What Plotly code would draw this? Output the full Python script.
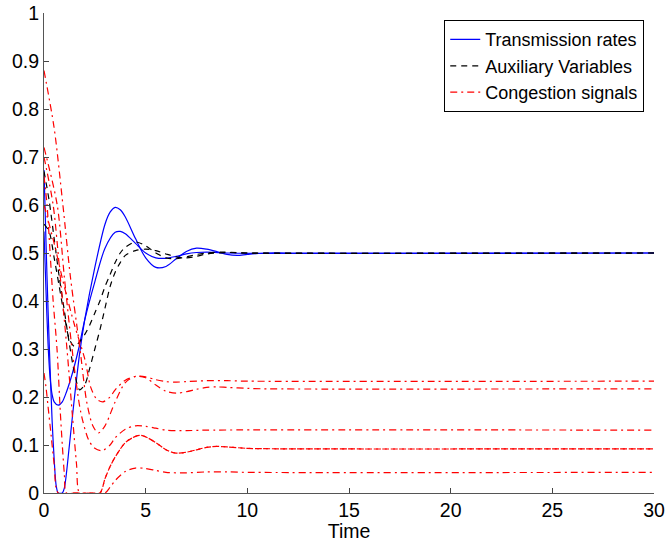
import plotly.graph_objects as go

# ---- transmission rates (blue, solid) ----
rate1_t = [0, 0.1, 0.2, 0.3, 0.4, 0.5, 0.6, 0.7, 0.9, 1.0, 1.25, 1.5, 1.75, 2.0, 2.5, 3.0, 3.25, 3.5,
           3.75, 4.0, 4.5, 5.0, 5.5, 6.0, 6.5, 7.0, 7.5, 8.0, 8.5, 9.0, 9.5, 10, 11, 12, 30]
rate1_y = [0.673, 0.52, 0.38, 0.26, 0.15, 0.07, 0.015, 0.0, 0.0, 0.01, 0.1, 0.2, 0.29, 0.36, 0.47, 0.56,
           0.585, 0.595, 0.59, 0.575, 0.53, 0.49, 0.47, 0.472, 0.488, 0.503, 0.51, 0.508, 0.503, 0.497,
           0.495, 0.497, 0.5, 0.5, 0.5]
rate2_t = [0, 0.1, 0.2, 0.3, 0.4, 0.5, 0.7, 0.9, 1.1, 1.4, 1.7, 2.0, 2.5, 3.0, 3.5, 3.75, 4.0, 4.5,
           5.0, 5.5, 6.0, 6.5, 7.0, 7.5, 8.0, 9.0, 30]
rate2_y = [0.545, 0.42, 0.31, 0.24, 0.205, 0.19, 0.183, 0.19, 0.21, 0.25, 0.3, 0.36, 0.44, 0.51,
           0.543, 0.545, 0.54, 0.52, 0.5, 0.49, 0.489, 0.493, 0.498, 0.501, 0.502, 0.5, 0.5]

# ---- auxiliary variables (black, dashed) ----
aux1_t = [0, 0.25, 0.5, 0.75, 1.0, 1.25, 1.5, 1.75, 2.0, 2.25, 2.5, 2.75, 3.0, 3.25, 3.5, 3.75, 4.0,
          4.5, 5.0, 5.5, 6.0, 6.5, 7.0, 7.5, 8.0, 9.0, 10, 30]
aux1_y = [0.67, 0.61, 0.53, 0.45, 0.38, 0.31, 0.25, 0.215, 0.225, 0.26, 0.3, 0.34, 0.385, 0.43, 0.46,
          0.48, 0.495, 0.505, 0.508, 0.505, 0.498, 0.492, 0.49, 0.493, 0.498, 0.501, 0.5, 0.5]
aux2_t = [0, 0.25, 0.5, 0.75, 1.0, 1.25, 1.5, 1.75, 2.0, 2.25, 2.5, 2.75, 3.0, 3.25, 3.5, 3.75, 4.0,
          4.5, 5.0, 5.5, 6.0, 6.5, 7.0, 7.5, 8.0, 8.8, 10, 30]
aux2_y = [0.56, 0.545, 0.49, 0.43, 0.37, 0.32, 0.305, 0.315, 0.33, 0.35, 0.375, 0.4, 0.43, 0.455,
          0.48, 0.5, 0.512, 0.523, 0.515, 0.5, 0.49, 0.488, 0.492, 0.497, 0.5, 0.502, 0.5, 0.5]

# ---- congestion signals (red, dash-dot) ----
sig1_t = [0, 0.5, 1.0, 1.5, 2.0, 2.3, 2.6, 2.9, 3.25, 3.5, 4.0, 4.5, 5.0, 5.5, 6.0, 6.5, 7, 8, 9, 10, 30]
sig1_y = [0.6, 0.52, 0.43, 0.35, 0.28, 0.22, 0.195, 0.19, 0.2, 0.215, 0.235, 0.243, 0.242, 0.236,
          0.232, 0.231, 0.232, 0.234, 0.234, 0.233, 0.233]
sig2_t = [0, 0.5, 0.93, 1.3, 1.77, 2.1, 2.4, 2.67, 3.0, 3.5, 4.0, 4.5, 5.0, 5.5, 6.0, 6.5, 7.0, 7.5,
          8.0, 8.5, 9, 10, 11, 30]
sig2_y = [0.88, 0.76, 0.6, 0.45, 0.3, 0.19, 0.14, 0.125, 0.14, 0.19, 0.23, 0.243, 0.24, 0.225, 0.212,
          0.208, 0.211, 0.216, 0.22, 0.221, 0.22, 0.218, 0.217, 0.217]
sig3_t = [0, 0.65, 1.0, 1.38, 1.8, 2.2, 2.5, 2.85, 3.25, 3.5, 4.0, 4.5, 5.0, 5.5, 6.0, 7, 8, 30]
sig3_y = [0.72, 0.6, 0.45, 0.3, 0.17, 0.11, 0.093, 0.088, 0.1, 0.115, 0.133, 0.14, 0.139, 0.135,
          0.131, 0.13, 0.131, 0.131]
sig4_t = [0, 0.45, 0.8, 1.13, 1.4, 1.6, 1.75, 2.2, 2.75, 3.0, 3.25, 3.5, 4.0, 4.5, 4.75, 5.0, 5.5,
          6.0, 6.5, 7.0, 7.5, 8.0, 8.5, 9.0, 10, 12, 30]
sig4_y = [0.7, 0.6, 0.45, 0.3, 0.16, 0.06, 0.0, 0.0, 0.0, 0.03, 0.055, 0.075, 0.105, 0.118, 0.12,
          0.117, 0.105, 0.09, 0.083, 0.085, 0.09, 0.095, 0.097, 0.096, 0.093, 0.092, 0.092]
sig5_t = [0, 0.15, 0.3, 0.45, 0.64, 0.8, 0.9, 1.0, 1.1, 1.5, 2.0, 2.5, 3.0, 3.25, 3.5, 4.0, 4.5, 5.0,
          5.5, 6.0, 7.0, 8.0, 9.0, 10, 30]
sig5_y = [0.66, 0.6, 0.5, 0.4, 0.3, 0.17, 0.1, 0.04, 0.0, 0.0, 0.0, 0.0, 0.0, 0.012, 0.026, 0.045,
          0.052, 0.051, 0.047, 0.043, 0.042, 0.044, 0.044, 0.043, 0.043]
sig6_t = [0, 0.1, 0.2, 0.35, 0.5, 0.7, 1.5, 2.2, 2.75, 3.0, 3.25, 3.5, 4.0, 4.5, 4.75, 5.0, 5.5,
          6.0, 6.5, 7.0, 7.5, 8.0, 8.5, 9.0, 10, 12, 30]
sig6_y = [0.25, 0.22, 0.18, 0.12, 0.06, 0.0, 0.0, 0.0, 0.0, 0.03, 0.055, 0.075, 0.105, 0.118, 0.12,
          0.117, 0.105, 0.09, 0.083, 0.085, 0.09, 0.095, 0.097, 0.096, 0.093, 0.092, 0.092]

x_ticks = [0, 5, 10, 15, 20, 25, 30]
y_ticks = [0, 0.1, 0.2, 0.3, 0.4, 0.5, 0.6, 0.7, 0.8, 0.9, 1]
y_tick_text = ["0", "0.1", "0.2", "0.3", "0.4", "0.5", "0.6", "0.7", "0.8", "0.9", "1"]

groups = [
    ("Transmission rates", "#0000ff", "solid", [(rate1_t, rate1_y), (rate2_t, rate2_y)]),
    ("Auxiliary Variables", "#000000", "6px,5px", [(aux1_t, aux1_y), (aux2_t, aux2_y)]),
    ("Congestion signals", "#ff0000", "7px,4px,2px,4px",
     [(sig1_t, sig1_y), (sig2_t, sig2_y), (sig3_t, sig3_y), (sig4_t, sig4_y),
      (sig5_t, sig5_y), (sig6_t, sig6_y)]),
]

fig = go.Figure()
for name, color, dash, series in groups:
    for i, (tx, ty) in enumerate(series):
        fig.add_trace(go.Scatter(
            x=tx, y=ty, mode="lines", name=name,
            showlegend=(i == 0),
            line=dict(color=color, width=1.2, dash=dash, shape="spline", smoothing=0.8),
        ))

font_family = "Liberation Sans, Arial, sans-serif"
fig.update_layout(
    width=667, height=542,
    margin=dict(l=44, r=13, t=13, b=49),
    paper_bgcolor="white", plot_bgcolor="white",
    font=dict(family=font_family, size=19.5, color="#000000"),
    showlegend=True,
    legend=dict(
        x=0.984, y=0.985, xanchor="right", yanchor="top",
        bordercolor="#000000", borderwidth=1, bgcolor="white",
        font=dict(size=18), tracegroupgap=0, itemwidth=30,
    ),
    xaxis=dict(
        range=[0, 30], tickvals=x_ticks, ticks="inside", ticklen=5, tickcolor="#444444",
        showline=True, linecolor="#555555", linewidth=1, showgrid=False, zeroline=False,
        automargin=False, tickfont=dict(size=19.5),
        title=dict(text="Time", standoff=0, font=dict(size=19.5)),
    ),
    yaxis=dict(
        range=[0, 1], tickvals=y_ticks, ticktext=y_tick_text, ticks="inside", ticklen=5,
        tickcolor="#444444", showline=True, linecolor="#555555", linewidth=1,
        showgrid=False, zeroline=False, automargin=False, tickfont=dict(size=19.5),
    ),
)

fig.write_html("out.html")
